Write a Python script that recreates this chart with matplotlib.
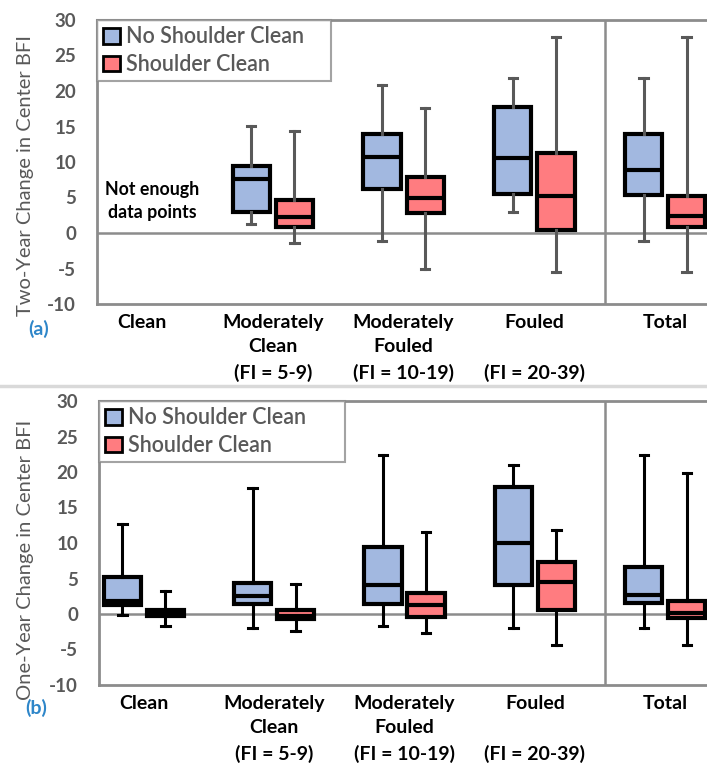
import matplotlib.pyplot as plt
import numpy as np

plt.rcParams["font.family"] = ["Lato", "DejaVu Sans"]

categories = ["Clean", "Moderately\nClean\n(FI = 5-9)", "Moderately\nFouled\n(FI = 10-19)",
              "Fouled\n\n(FI = 20-39)", "Total"]
series = ["No Shoulder Clean", "Shoulder Clean"]

# (whislo, q1, median, q3, whishi); None = not enough data
two_year_no_sc = [None, (1.3, 3.0, 7.6, 9.4, 15.0), (-1.1, 6.2, 10.7, 13.9, 20.8),
                  (3.0, 5.5, 10.6, 17.8, 21.9), (-1.1, 5.3, 8.9, 14.0, 21.9)]
two_year_sc = [None, (-1.4, 0.8, 2.3, 4.6, 14.3), (-5.0, 2.8, 4.9, 7.9, 17.6),
               (-5.5, 0.4, 5.2, 11.3, 27.6), (-5.5, 0.8, 2.4, 5.2, 27.6)]
one_year_no_sc = [(-0.1, 1.3, 1.9, 5.2, 12.7), (-2.0, 1.4, 2.5, 4.4, 17.7), (-1.7, 1.4, 4.1, 9.4, 22.4),
                  (-2.0, 4.1, 10.0, 17.9, 21.0), (-2.0, 1.5, 2.7, 6.6, 22.4)]
one_year_sc = [(-1.7, -0.3, 0.0, 0.6, 3.2), (-2.4, -0.7, -0.3, 0.6, 4.2), (-2.7, -0.4, 1.3, 3.0, 11.5),
               (-4.4, 0.6, 4.5, 7.3, 11.8), (-4.4, -0.5, 0.2, 1.8, 19.8)]

colors = ["#A2B8E0", "#FF7C80"]
grey = "#8C8C8C"
text_grey = "#595959"


def draw_panel(ax, data_pair, whisker_color, legend_w):
    ax.set_xlim(-0.344, 4.32)
    ax.set_ylim(-10, 30)
    offsets = [-0.165, 0.165]
    for k, data in enumerate(data_pair):
        stats, pos = [], []
        for i, v in enumerate(data):
            if v is None:
                continue
            lo, q1, med, q3, hi = v
            stats.append(dict(whislo=lo, q1=q1, med=med, q3=q3, whishi=hi, fliers=[]))
            pos.append(i + offsets[k])
        ax.bxp(stats, positions=pos, widths=0.285, capwidths=0.065, patch_artist=True,
               showfliers=False,
               boxprops=dict(facecolor=colors[k], edgecolor="black", linewidth=3),
               medianprops=dict(color="black", linewidth=3),
               whiskerprops=dict(color=whisker_color, linewidth=2.2),
               capprops=dict(color=whisker_color, linewidth=2.2), zorder=3)
    ax.axhline(0, color=grey, lw=1.8, zorder=2)
    ax.axvline(3.54, color=grey, lw=1.8, zorder=2)
    for s in ["left", "bottom", "top"]:
        ax.spines[s].set_color(grey)
        ax.spines[s].set_linewidth(2)
    ax.spines["right"].set_visible(False)
    ax.set_yticks(np.arange(-10, 31, 5))
    ax.set_yticklabels([str(v) for v in range(-10, 31, 5)], color=text_grey,
                       fontsize=13.5, fontweight="bold")
    ax.set_xticks(range(len(categories)))
    ax.set_xticklabels(categories, fontsize=14, fontweight="bold", linespacing=1.55,
                       va="top")
    ax.tick_params(axis="x", length=0, pad=7)
    ax.tick_params(axis="y", length=0, pad=15)

    handles = [plt.Rectangle((0, 0), 1, 1, facecolor=c, edgecolor="black", lw=2) for c in colors]
    leg = ax.legend(handles, series, loc="upper left", bbox_to_anchor=(0, 1, legend_w, 0),
                    mode="expand", frameon=True, fancybox=False,
                    prop=dict(size=15.5, weight="semibold"),
                    handlelength=0.75, handleheight=0.75, handletextpad=0.3,
                    borderpad=0.3, labelspacing=0.3, borderaxespad=0)
    leg.get_frame().set_edgecolor(grey)
    leg.get_frame().set_linewidth(1.5)
    for t in leg.get_texts():
        t.set_color(text_grey)


fig = plt.figure(figsize=(7.07, 7.70), dpi=100)
ax1 = fig.add_axes([97 / 707, (770 - 304) / 770, 1 - 97 / 707, 284 / 770])
ax2 = fig.add_axes([99 / 707, (770 - 685) / 770, 1 - 99 / 707, 284 / 770])

draw_panel(ax1, [two_year_no_sc, two_year_sc], "#595959", 0.383)
draw_panel(ax2, [one_year_no_sc, one_year_sc], "black", 0.405)

ax1.text(0.08, 4.5, "Not enough\ndata points", ha="center", va="center", fontsize=12.8,
         fontweight="bold", linespacing=1.45)

fig.text(26 / 707, 1 - 176 / 770, "Two-Year Change in Center BFI", rotation=90,
         ha="center", va="center", fontsize=14.5, color=text_grey)
fig.text(26 / 707, 1 - 560 / 770, "One-Year Change in Center BFI", rotation=90,
         ha="center", va="center", fontsize=14.5, color=text_grey)
fig.text(39 / 707, 1 - 329 / 770, "(a)", ha="center", va="center", fontsize=14,
         fontweight="bold", color="#2E86C9")
fig.text(36 / 707, 1 - 708 / 770, "(b)", ha="center", va="center", fontsize=14,
         fontweight="bold", color="#2E86C9")
fig.add_artist(plt.Line2D([0, 1], [1 - 386 / 770, 1 - 386 / 770], color="#D9D9D9", lw=2.5))

fig.savefig("out.png", dpi=100)
